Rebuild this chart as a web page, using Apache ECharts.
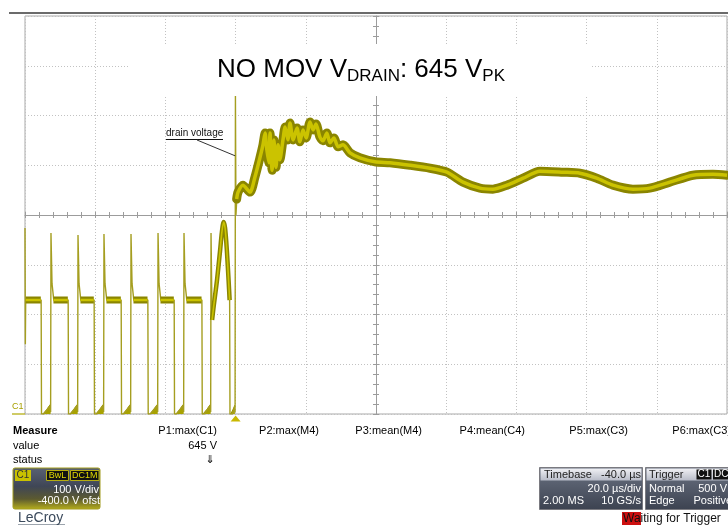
<!DOCTYPE html>
<html><head><meta charset="utf-8">
<script src="https://cdn.jsdelivr.net/npm/echarts@6/dist/echarts.min.js"></script>
<style>html,body{margin:0;padding:0;background:#fff}#c{width:728px;height:525px}</style>
</head><body><div id="c"></div>
<script>
// ---- axis settings (oscilloscope: 20 µs/div, 100 V/div, -400 V offset) ----
const timeMin = -60, timeMax = 140, timeDiv = 20;   // µs
const voltMin = 0, voltMax = 800, voltDiv = 100;    // V

// ---- switching waveform before the event (thin trace) [µs, V] ----
const switchingTrace = [
  [-60.0, 374], [-59.9, 140], [-59.8, 229], [-55.4, 229], [-55.3, 0], [-54.6, 0], [-53.0, 16], [-52.7, 4],
  [-52.6, 364], [-52.3, 262], [-51.8, 229], [-47.7, 229], [-47.6, 0], [-47.0, 0], [-45.3, 16], [-45.0, 4],
  [-44.9, 360], [-44.6, 262], [-44.1, 229], [-40.3, 229], [-40.2, 0], [-39.6, 0], [-37.9, 16], [-37.6, 4],
  [-37.5, 362], [-37.2, 262], [-36.7, 229], [-32.6, 229], [-32.5, 0], [-31.9, 0], [-30.2, 16], [-29.9, 4],
  [-29.8, 362], [-29.5, 262], [-29.0, 229], [-25.0, 229], [-24.9, 0], [-24.3, 0], [-22.5, 16], [-22.2, 4],
  [-22.1, 364], [-21.8, 262], [-21.3, 229], [-17.5, 229], [-17.4, 0], [-16.8, 0], [-15.1, 16], [-14.8, 4],
  [-14.7, 364], [-14.4, 262], [-13.9, 229], [-9.6, 229], [-9.5, 0], [-8.9, 0], [-7.4, 16], [-7.1, 4],
  [-7.0, 364], [-6.7, 189], [-6.2, 219], [-5.3, 269], [-4.4, 330], [-3.9, 366], [-3.4, 386], [-3.0, 374],
  [-2.5, 330], [-2.0, 269], [-1.7, 229], [-1.6, 0], [-0.9, 0], [-0.25, 14], [-0.15, 4],
  [-0.05, 645], [0.1, 400], [0.4, 440]
];

// ---- small ramps at the bottom before each turn-off edge ----
const bottomRamps = [
  [-54.9, 0], [-53.8, 9], [-52.7, 20], [-52.65, '-'],
  [-47.2, 0], [-46.1, 9], [-45.0, 20], [-44.95, '-'],
  [-39.8, 0], [-38.7, 9], [-37.6, 20], [-37.55, '-'],
  [-32.1, 0], [-31.0, 9], [-29.9, 20], [-29.85, '-'],
  [-24.4, 0], [-23.3, 9], [-22.2, 20], [-22.15, '-'],
  [-17.0, 0], [-15.9, 9], [-14.8, 20], [-14.75, '-'],
  [-9.3, 0], [-8.2, 9], [-7.1, 20], [-7.05, '-'],
  [-1.4, 0], [-0.8, 8], [-0.2, 18]
];

// ---- plateau segments of the switching waveform (thick band) ----
const plateauBand = [
  [-59.8, 229], [-55.5, 229], [-55.45, '-'],
  [-51.9, 229], [-47.8, 229], [-47.75, '-'],
  [-44.2, 229], [-40.4, 229], [-40.35, '-'],
  [-36.8, 229], [-32.7, 229], [-32.65, '-'],
  [-29.1, 229], [-25.1, 229], [-25.05, '-'],
  [-21.4, 229], [-17.6, 229], [-17.55, '-'],
  [-14.0, 229], [-9.7, 229]
];

// ---- last cycle resonant hump ----
const humpBand = [
  [-6.7, 189], [-6.2, 219], [-5.3, 269], [-4.4, 330], [-3.9, 366], [-3.4, 386], [-3.0, 374],
  [-2.5, 330], [-2.0, 269], [-1.7, 229]
];

// ---- drain voltage after the event (thick band) ----
const responseBand = [
  [0.3, 432], [0.7, 446], [2.1, 460], [4.1, 446], [5.5, 476], [7.0, 517], [7.8, 541], [8.4, 565],
  [8.9, 531], [9.5, 505], [9.8, 565], [10.4, 490], [10.9, 551], [11.5, 496], [12.1, 541], [12.6, 511],
  [13.5, 551], [14.1, 577], [14.9, 551], [15.5, 585], [16.4, 551], [17.5, 575], [18.3, 547], [19.2, 571],
  [20.1, 555], [21.2, 587], [22.1, 571], [22.9, 583], [24.0, 557], [24.9, 549], [26.0, 565], [26.9, 545],
  [28.0, 555], [29.2, 537], [30.6, 541], [32.6, 525], [35.4, 515], [39.7, 507], [44.0, 505], [49.7, 500],
  [55.4, 494], [60.2, 486], [64.8, 466], [69.6, 454], [73.3, 452], [77.3, 460], [81.9, 474], [86.7, 488],
  [93.3, 486], [98.1, 484], [102.9, 474], [107.5, 460], [113.2, 452], [118.0, 454], [123.7, 466],
  [130.3, 480], [136.0, 482], [140.0, 480]
];

// ---- texts ----
const measureHeaders = ['P1:max(C1)', 'P2:max(M4)', 'P3:mean(M4)', 'P4:mean(C4)', 'P5:max(C3)', 'P6:max(C3)'];
const measureRows = ['value', 'status'];
const p1Value = '645 V';
const peakVolt = 519; // where the "drain voltage" label points

const FONT = '"Liberation Sans", Arial, sans-serif';
const dark = '#8a8500', bright = '#cbc300';

const chart = echarts.init(document.getElementById('c'), null, {renderer: 'canvas'});

const gridSplit = {show: true, lineStyle: {color: '#c2c2c2', type: [1, 2], width: 1}};
const hidden = {show: false};
const option = {
  animation: false,
  backgroundColor: '#ffffff',
  grid: [
    {left: 25, top: 16, width: 702, height: 398, show: true, borderColor: '#a9a9a9', borderWidth: 1, backgroundColor: 'transparent'},
    {left: 25, top: 212, width: 702, height: 6},
    {left: 373, top: 16, width: 6, height: 398}
  ],
  xAxis: [
    {type: 'value', gridIndex: 0, min: timeMin, max: timeMax, interval: timeDiv,
      axisLine: hidden, axisTick: hidden, axisLabel: hidden, splitLine: gridSplit},
    {type: 'value', gridIndex: 1, min: -5, max: 5, interval: 0.2,
      axisLine: {show: true, onZero: true, lineStyle: {color: '#9c9c9c', width: 1}},
      axisTick: hidden, axisLabel: hidden,
      splitLine: {show: true, lineStyle: {color: '#9c9c9c', type: 'solid', width: 1}}},
    {type: 'value', gridIndex: 2, min: -1, max: 1, show: false}
  ],
  yAxis: [
    {type: 'value', gridIndex: 0, min: voltMin, max: voltMax, interval: voltDiv,
      axisLine: hidden, axisTick: hidden, axisLabel: hidden, splitLine: gridSplit},
    {type: 'value', gridIndex: 1, min: -1, max: 1, show: false},
    {type: 'value', gridIndex: 2, min: -4, max: 4, interval: 0.2,
      axisLine: {show: true, onZero: true, lineStyle: {color: '#9c9c9c', width: 1}},
      axisTick: hidden, axisLabel: hidden,
      splitLine: {show: true, lineStyle: {color: '#9c9c9c', type: 'solid', width: 1}}}
  ],
  series: [
    {type: 'line', name: 'ramps', data: bottomRamps, showSymbol: false, z: 3, connectNulls: false,
      lineStyle: {color: '#9a9400', width: 1}, areaStyle: {color: '#a8a200', opacity: 1}},
    {type: 'line', name: 'switching', data: switchingTrace, showSymbol: false, z: 3,
      lineStyle: {color: '#a59e20', width: 1.4}},
    {type: 'line', name: 'plateauOuter', data: plateauBand, showSymbol: false, z: 4, connectNulls: false,
      lineStyle: {color: dark, width: 7}},
    {type: 'line', name: 'plateauInner', data: plateauBand, showSymbol: false, z: 5, connectNulls: false,
      lineStyle: {color: bright, width: 2.5}},
    {type: 'line', name: 'humpOuter', data: humpBand, showSymbol: false, z: 4, smooth: 0.3,
      lineStyle: {color: dark, width: 4.5}},
    {type: 'line', name: 'humpInner', data: humpBand, showSymbol: false, z: 5, smooth: 0.3,
      lineStyle: {color: bright, width: 1.6}},
    {type: 'line', name: 'respOuter', data: responseBand, showSymbol: false, z: 4, smooth: 0.25,
      lineStyle: {color: dark, width: 9, join: 'round', cap: 'round'}},
    {type: 'line', name: 'respInner', data: responseBand, showSymbol: false, z: 5, smooth: 0.25,
      lineStyle: {color: bright, width: 3.5, join: 'round'}}
  ]
};
chart.setOption(option);

function txt(x, y, text, opts) {
  opts = opts || {};
  const align = opts.align || 'left';
  const va = opts.va || 'middle';
  return {type: 'text', x: x, y: y, z: opts.z || 120,
    style: {text: text, fill: opts.fill || '#000', font: opts.font || ('11px ' + FONT),
      align: align, textAlign: align, verticalAlign: va, textVerticalAlign: va}};
}
function rect(x, y, w, h, fill, stroke, z) {
  return {type: 'rect', z: z || 110, shape: {x: x, y: y, width: w, height: h},
    style: {fill: fill, stroke: stroke || null, lineWidth: stroke ? 1 : 0}};
}
function vgrad(stops) {
  return new echarts.graphic.LinearGradient(0, 0, 0, 1, stops.map((c) => ({offset: c[0], color: c[1]})));
}

const trig = chart.convertToPixel({gridIndex: 0}, [0, voltMin]);
const gnd = chart.convertToPixel({gridIndex: 0}, [timeMin, voltMin]);
const pk = chart.convertToPixel({gridIndex: 0}, [0, peakVolt]);

const g = [];
// top black rule
g.push({type: 'line', z: 120, shape: {x1: 9, y1: 13, x2: 728, y2: 13}, style: {stroke: '#3a3a3a', lineWidth: 1.6}});
// title box + title
g.push(rect(130, 44, 460, 52, '#ffffff', null, 100));
g.push({type: 'text', x: 217, y: 54, z: 120, style: {
  text: '{a|NO MOV V}{b|DRAIN}{a|: 645 V}{b|PK}',
  align: 'left', textAlign: 'left', verticalAlign: 'top', textVerticalAlign: 'top',
  rich: {
    a: {fontSize: 26, fontFamily: FONT, fill: '#000', lineHeight: 31},
    b: {fontSize: 17, fontFamily: FONT, fill: '#000', lineHeight: 19, verticalAlign: 'bottom'}
  }}});
// drain voltage annotation
g.push(txt(166, 133, 'drain voltage', {font: '10px ' + FONT, fill: '#111'}));
g.push({type: 'polyline', z: 120, shape: {points: [[166, 139.5], [223, 139.5]]}, style: {stroke: '#111', lineWidth: 1, fill: null}});
g.push({type: 'line', z: 120, shape: {x1: 197, y1: 140, x2: pk[0] - 0.5, y2: pk[1]}, style: {stroke: '#333', lineWidth: 1}});
// ground marker C1
g.push(txt(gnd[0] - 13, gnd[1] - 7, 'C1', {font: '9px ' + FONT, fill: '#a8a000'}));
g.push({type: 'line', z: 120, shape: {x1: gnd[0] - 13, y1: gnd[1], x2: gnd[0], y2: gnd[1]}, style: {stroke: '#b0a800', lineWidth: 1.2}});
// trigger marker
g.push({type: 'polygon', z: 120, shape: {points: [[trig[0], trig[1] + 1.5], [trig[0] - 5, trig[1] + 7.5], [trig[0] + 5, trig[1] + 7.5]]}, style: {fill: '#c9b800'}});

// measure table
g.push(txt(13, 431, 'Measure', {font: 'bold 11px ' + FONT}));
g.push(txt(13, 445.5, measureRows[0]));
g.push(txt(13, 460, measureRows[1]));
const colRight = [217, 319, 422, 525, 628, 731];
measureHeaders.forEach((h, i) => g.push(txt(colRight[i], 431, h, {align: 'right'})));
g.push(txt(217, 445.5, p1Value, {align: 'right'}));
g.push(txt(210, 460, '⇓', {align: 'center', font: '11px "DejaVu Sans", sans-serif'}));

// C1 channel box
g.push({type: 'rect', z: 110, shape: {x: 13, y: 468, width: 87, height: 41, r: 2},
  style: {fill: vgrad([[0, '#5a6273'], [0.45, '#3f4656'], [0.75, '#5c5a30'], [1, '#b8b01a']]), stroke: '#a29c1e', lineWidth: 1}});
g.push(rect(15, 470, 16, 11, '#c9c100', null, 115));
g.push(txt(23, 475.5, 'C1', {align: 'center', font: '10px ' + FONT, fill: '#333'}));
g.push(rect(46.5, 470.5, 22, 10, '#111', '#b5ad10', 115));
g.push(txt(57.5, 475.5, 'BwL', {align: 'center', font: '9px ' + FONT, fill: '#e0d800'}));
g.push(rect(70.5, 470.5, 28.5, 10, '#111', '#b5ad10', 115));
g.push(txt(84.7, 475.5, 'DC1M', {align: 'center', font: '9px ' + FONT, fill: '#e0d800'}));
g.push(txt(99, 490, '100 V/div', {align: 'right', fill: '#fff'}));
g.push(txt(100, 501, '-400.0 V ofst', {align: 'right', fill: '#fff'}));
// LeCroy
g.push(txt(18, 518, 'LeCroy', {font: '14px ' + FONT, fill: '#3b4a5c'}));
g.push({type: 'line', z: 120, shape: {x1: 18, y1: 525, x2: 65, y2: 525}, style: {stroke: '#3b4a5c', lineWidth: 1.2}});

// Timebase box
g.push({type: 'rect', z: 110, shape: {x: 539.5, y: 467.5, width: 103, height: 42}, style: {fill: vgrad([[0, '#6a7282'], [1, '#3c4250']]), stroke: '#7a7a80', lineWidth: 1}});
g.push({type: 'rect', z: 111, shape: {x: 540.5, y: 468.5, width: 101, height: 12}, style: {fill: vgrad([[0, '#f0f0f4'], [1, '#b8bcc8']])}});
g.push(txt(544, 474.5, 'Timebase', {fill: '#222'}));
g.push(txt(641, 474.5, '-40.0 µs', {align: 'right', fill: '#222'}));
g.push(txt(641, 489, '20.0 µs/div', {align: 'right', fill: '#fff'}));
g.push(txt(543, 501, '2.00 MS', {fill: '#fff'}));
g.push(txt(641, 501, '10 GS/s', {align: 'right', fill: '#fff'}));
// Trigger box
g.push({type: 'rect', z: 110, shape: {x: 645.5, y: 467.5, width: 90, height: 42}, style: {fill: vgrad([[0, '#6a7282'], [1, '#3c4250']]), stroke: '#7a7a80', lineWidth: 1}});
g.push({type: 'rect', z: 111, shape: {x: 646.5, y: 468.5, width: 88, height: 12}, style: {fill: vgrad([[0, '#f0f0f4'], [1, '#b8bcc8']])}});
g.push(txt(649, 474.5, 'Trigger', {fill: '#222'}));
g.push(rect(696.5, 469.5, 15, 10, '#111', null, 115));
g.push(txt(704, 474.5, 'C1', {align: 'center', font: '10px ' + FONT, fill: '#fff'}));
g.push(rect(713, 469.5, 16, 10, '#111', null, 115));
g.push(txt(714, 474.5, 'DC', {font: '10px ' + FONT, fill: '#fff'}));
g.push(txt(649, 489, 'Normal', {fill: '#fff'}));
g.push(txt(727, 489, '500 V', {align: 'right', fill: '#fff'}));
g.push(txt(649, 501, 'Edge', {fill: '#fff'}));
g.push(txt(732, 501, 'Positive', {align: 'right', fill: '#fff'}));
// Waiting for trigger
g.push(rect(622, 512, 19, 14, '#cc1010', null, 110));
g.push(txt(623, 519, 'Waiting for Trigger', {font: '12px ' + FONT, fill: '#111'}));

chart.setOption({graphic: {elements: g}});
</script>
</body></html>
